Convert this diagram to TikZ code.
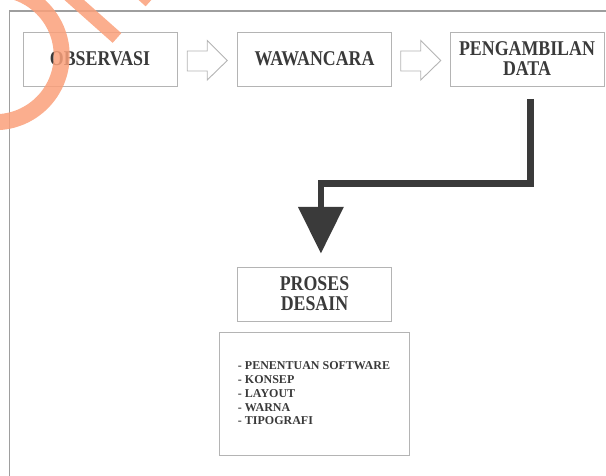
\documentclass[tikz,border=0pt]{standalone}
\usepackage{fontspec}
\setmainfont{Liberation Serif}
\newfontfamily\boxfont{Liberation Serif}[FakeStretch=0.85]
\usepackage{tikz}
\usetikzlibrary{arrows.meta,calc}
\definecolor{ink}{HTML}{3A3A3A}
\definecolor{edge}{HTML}{B4B4B4}
\definecolor{framegray}{HTML}{9E9E9E}
\definecolor{markorange}{RGB}{250,160,122}

\begin{document}
\begin{tikzpicture}[x=1pt,y=-1pt,
  stage/.style={draw=edge,line width=0.9pt,minimum width=154pt,minimum height=54pt,inner sep=0pt,align=center,text=ink,font=\boxfont\bfseries\fontsize{21}{20}\selectfont},
  hollow/.style={draw=edge,line width=0.9pt,fill=white},
  bigarrow/.style={draw=ink,line width=6.7pt,-{Triangle[width=46pt,length=46.5pt,line width=0pt]}}]
\useasboundingbox (0,0) rectangle (606,476);
\draw[framegray,line width=1.2pt] (9.5,476) -- (9.5,11) -- (606,11);

% alur kerja
\node[stage] (obs) at (100,59) {OBSERVASI};
\node[stage] (waw) at (314.5,59) {WAWANCARA};
\node[stage] (data) at (527,59) {PENGAMBILAN\\DATA};
\node[stage] (proses) at (314.5,294) {PROSES\\DESAIN};
\node[draw=edge,line width=0.9pt,minimum width=190pt,minimum height=123pt,inner sep=0pt,align=left,text=ink,font=\bfseries\fontsize{12}{13.75}\selectfont] (rincian) at (314,393.5)
  {- PENENTUAN SOFTWARE\\- KONSEP\\- LAYOUT\\- WARNA\\- TIPOGRAFI};

\foreach \a/\b in {obs/waw,waw/data}
  \draw[hollow,shift={($(\a.east)!0.5!(\b.west)$)}] (-20,-8) -- (0,-8) -- (0,-18.5) -- (20,1.5) -- (0,21) -- (0,12) -- (-20,12) -- cycle;

\coordinate (drop) at (530.7,99);
\coordinate (bend) at (320.9,183.3);
\coordinate (tip) at (320.9,253.3);
\draw[bigarrow] (drop) |- (bend) -- (tip);

% tanda air
\begin{scope}
\clip (0,0) rectangle (606,476);
\draw[markorange,line width=16pt,opacity=.85] (-5,55.5) circle (66.7);
\draw[markorange,line width=13pt,opacity=.85] (63,-10) -- (117,38);
\draw[markorange,line width=13pt,opacity=.85] (135,-12) -- (150,1.5);
\end{scope}
\end{tikzpicture}
\end{document}
